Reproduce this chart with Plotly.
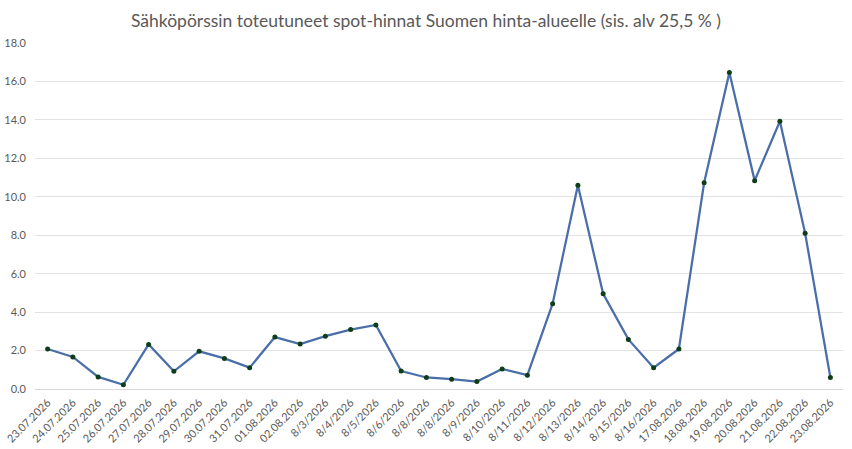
import plotly.graph_objects as go

# Päivämäärät kuten kuvassa (huom. 8/8/2026 kahdesti)
dates = [
    "23.07.2026", "24.07.2026", "25.07.2026", "26.07.2026", "27.07.2026",
    "28.07.2026", "29.07.2026", "30.07.2026", "31.07.2026", "01.08.2026",
    "02.08.2026", "8/3/2026", "8/4/2026", "8/5/2026", "8/6/2026",
    "8/8/2026", "8/8/2026", "8/9/2026", "8/10/2026", "8/11/2026",
    "8/12/2026", "8/13/2026", "8/14/2026", "8/15/2026", "8/16/2026",
    "17.08.2026", "18.08.2026", "19.08.2026", "20.08.2026", "21.08.2026",
    "22.08.2026", "23.08.2026",
]
prices = [
    2.08, 1.67, 0.63, 0.22, 2.32, 0.92, 1.96, 1.59, 1.11, 2.70,
    2.34, 2.75, 3.09, 3.33, 0.93, 0.60, 0.51, 0.39, 1.04, 0.72,
    4.44, 10.60, 4.95, 2.58, 1.11, 2.08, 10.73, 16.47, 10.84, 13.93,
    8.10, 0.60,
]
y_ticks = [0, 2, 4, 6, 8, 10, 12, 14, 16, 18]

idx = list(range(len(dates)))

fig = go.Figure()
fig.add_trace(
    go.Scatter(
        x=idx,
        y=prices,
        mode="lines+markers",
        line=dict(color="#4a6ea9", width=2.25),
        marker=dict(color="#0f3d17", size=5),
        showlegend=False,
    )
)

fig.update_layout(
    width=852,
    height=449,
    margin=dict(l=35, r=9, t=43, b=60),
    paper_bgcolor="white",
    plot_bgcolor="white",
    font=dict(family="Lato, Open Sans, sans-serif", color="#595959", size=11),
    title=dict(
        text="Sähköpörssin toteutuneet spot-hinnat Suomen hinta-alueelle (sis. alv 25,5 % )",
        x=0.5,
        xanchor="center",
        y=0.968,
        yanchor="top",
        font=dict(size=17.5, color="#595959"),
    ),
)

fig.update_xaxes(
    tickmode="array",
    tickvals=idx,
    ticktext=dates,
    tickangle=-45,
    range=[-0.5, len(dates) - 0.5],
    showgrid=False,
    showline=True,
    linecolor="#d9d9d9",
    zeroline=False,
    automargin=False,
    ticklabelstandoff=2,
    tickfont=dict(size=11),
)
fig.update_yaxes(
    range=[0, 18],
    tickvals=y_ticks,
    tickformat=".1f",
    showgrid=True,
    gridcolor="#e3e3e3",
    zeroline=False,
    showline=False,
    ticks="",
    ticklabelstandoff=8,
    automargin=False,
    tickfont=dict(size=11),
)

# selaimen oletusmarginaali pois, jotta kuva alkaa vasemmasta yläkulmasta
fig.write_html(
    "out.html",
    config={"displayModeBar": False},
    post_script="document.body.style.margin='0';",
)
